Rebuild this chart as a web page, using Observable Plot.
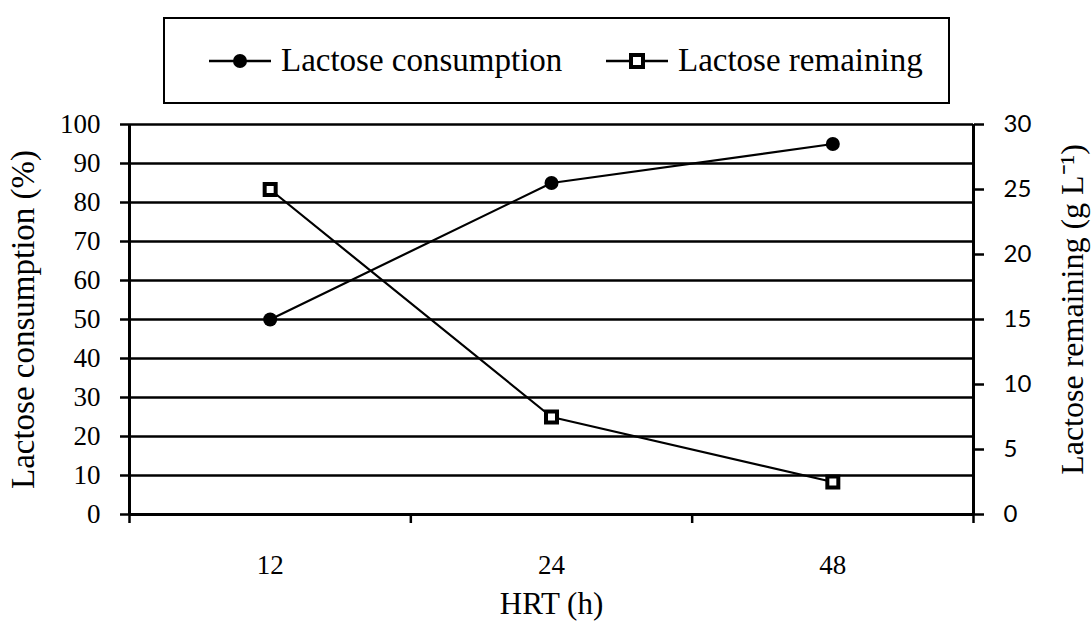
<!DOCTYPE html>
<html>
<head>
<meta charset="utf-8">
<script src="https://cdn.jsdelivr.net/npm/d3@7"></script>
<script src="https://cdn.jsdelivr.net/npm/@observablehq/plot@0.6"></script>
<style>
  html, body { margin: 0; padding: 0; background: white; }
  #wrap { width: 1092px; height: 621px; position: relative; overflow: hidden; font-family: 'Liberation Serif', 'Times New Roman', serif; }
  #legendRow { height: 110px; position: relative; }
  #legend { position: absolute; left: 163px; top: 17px; width: 787px; height: 87px; box-sizing: border-box; border: 2px solid black;
            font-size: 33px; color: black; }
  .item { position: absolute; top: 0; height: 83px; display: flex; align-items: center; white-space: nowrap; }
  .item svg { margin-right: 10px; }
</style>
</head>
<body>
<div id="wrap">
  <div id="legendRow"><div id="legend"></div></div>
  <div id="chart"></div>
</div>
<script>
// ---- data ----
const categories = ["12", "24", "48"];
const consumption = [50, 85, 95];          // Lactose consumption (%)
const remaining = [25, 7.5, 2.5];          // Lactose remaining (g L-1)
const leftTicks = [0, 10, 20, 30, 40, 50, 60, 70, 80, 90, 100];
const rightTicks = [0, 5, 10, 15, 20, 25, 30];
const rightMax = 30;
const seriesNames = ["Lactose consumption", "Lactose remaining"];
const legendOffsets = [44, 441];

const data = categories.map((c, i) => ({i, cat: c, cons: consumption[i], rem: remaining[i]}));
const toLeft = v => v * 100 / rightMax;

// ---- legend ----
const legend = document.getElementById("legend");
seriesNames.forEach((name, k) => {
  const item = document.createElement("div");
  item.className = "item";
  item.style.left = legendOffsets[k] + "px";
  const marker = k === 0
    ? '<circle cx="31" cy="15" r="7" fill="black"/>'
    : '<rect x="25" y="9" width="12" height="12" fill="white" stroke="black" stroke-width="4"/>';
  item.innerHTML = '<svg width="62" height="30"><line x1="0" x2="62" y1="15" y2="15" stroke="black" stroke-width="2.5"/>' + marker + '</svg><span>' + name + '</span>';
  legend.appendChild(item);
});

// ---- chart ----
const serif = "'Liberation Serif', 'Times New Roman', serif";
const chart = Plot.plot({
  width: 1092,
  height: 511,
  marginTop: 14,
  marginBottom: 107,
  marginLeft: 129,
  marginRight: 119,
  style: {fontFamily: serif, fontSize: "27px", color: "black", background: "white", overflow: "visible"},
  x: {type: "linear", domain: [0, categories.length], axis: null},
  y: {domain: [0, 100], axis: null},
  marks: [
    Plot.gridY(leftTicks.filter(v => v > 0), {stroke: "black", strokeOpacity: 1, strokeWidth: 2.5}),
    Plot.ruleY([0], {stroke: "black", strokeWidth: 3}),
    Plot.ruleX([0, categories.length], {stroke: "black", strokeWidth: 3}),
    Plot.axisY({anchor: "left", ticks: leftTicks, tickFormat: d => String(d), tickSize: 9, tickPadding: 20,
                label: null, fontSize: 27, strokeWidth: 2.5}),
    Plot.axisY({anchor: "right", ticks: rightTicks.map(toLeft), tickFormat: d => String(Math.round(d * rightMax / 100)),
                tickSize: 10, tickPadding: 20, label: null, fontFamily: "Lato, 'Open Sans', sans-serif", fontSize: 24, strokeWidth: 2.5}),
    Plot.axisX({anchor: "bottom", ticks: categories.map((c, i) => i + 0.5), tickFormat: d => categories[Math.floor(d)],
                tickSize: 0, tickPadding: 40, label: null, fontSize: 27}),
    Plot.axisX({anchor: "bottom", ticks: d3.range(categories.length + 1), tickFormat: () => "", tickSize: 9,
                label: null, strokeWidth: 2.5}),
    Plot.line(data, {x: d => d.i + 0.5, y: "cons", stroke: "black", strokeWidth: 2.2}),
    Plot.line(data, {x: d => d.i + 0.5, y: d => toLeft(d.rem), stroke: "black", strokeWidth: 2.2}),
    Plot.dot(data, {x: d => d.i + 0.5, y: "cons", r: 7, fill: "black", stroke: "none"}),
    Plot.dot(data, {x: d => d.i + 0.5, y: d => toLeft(d.rem), symbol: "square", r: 6.2, fill: "white", stroke: "black", strokeWidth: 4}),
    Plot.text(["Lactose consumption (%)"], {frameAnchor: "left", textAnchor: "middle", text: d => d, rotate: -90, dx: -106, fontSize: 33}),
    Plot.text(["Lactose remaining (g L\u207B\u00B9)"], {frameAnchor: "right", textAnchor: "middle", text: d => d, rotate: -90, dx: 99, dy: -10, fontSize: 32}),
    Plot.text(["HRT (h)"], {frameAnchor: "bottom", text: d => d, dy: 99, fontSize: 31})
  ]
});
document.getElementById("chart").appendChild(chart);
</script>
</body>
</html>
